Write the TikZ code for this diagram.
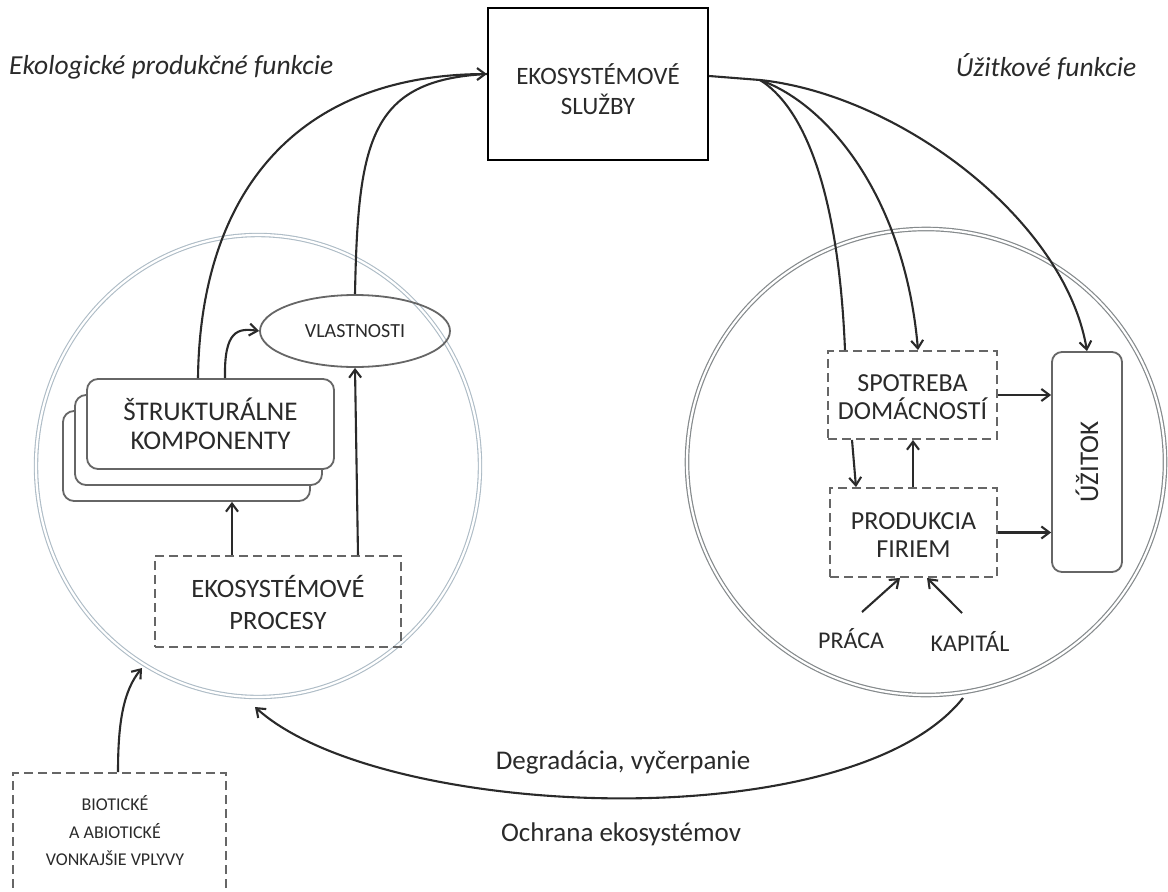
\documentclass[tikz,border=0pt]{standalone}
\usepackage{fontspec}
\setmainfont{Carlito}
\usetikzlibrary{arrows.meta,shapes.geometric}
\definecolor{ink}{HTML}{2A2A2A}
\definecolor{boxgray}{HTML}{666666}
\definecolor{ringleft}{HTML}{AEBCC6}
\definecolor{ringright}{HTML}{858A8C}
\tikzset{
  lbl/.style={font=\fontsize{25}{30}\selectfont, align=center, text=ink, inner sep=0pt},
  smalllbl/.style={font=\fontsize{18}{27.5}\selectfont, align=center, text=ink, inner sep=0pt},
  headlbl/.style={font=\fontsize{27.5}{30}\selectfont\itshape, text=ink, inner sep=0pt},
  mainbox/.style={draw=black, line width=2.4pt, inner sep=0pt},
  stackbox/.style={draw=boxgray, line width=1.8pt, rounded corners=11pt, fill=white,
    minimum width=247pt, minimum height=90pt, inner sep=0pt},
  dashbox/.style={draw=boxgray, line width=1.9pt, dash pattern=on 9pt off 5pt, inner sep=0pt},
  arr/.style={draw=ink, line width=2.1pt, -{Straight Barb[length=8pt,width=12pt]}},
  plain/.style={draw=ink, line width=2.1pt},
  ringL/.style={draw=ringleft, line width=1.1pt, double=white, double distance=2.2pt},
  ringR/.style={draw=ringright, line width=1.2pt, double=white, double distance=2.2pt},
}
\begin{document}
\begin{tikzpicture}[x=1pt,y=-1pt]
\useasboundingbox (0,0) rectangle (1168,892);

% the two domains
\draw[ringL] (258,466) ellipse [x radius=222, y radius=231];
\draw[ringR] (926,462) ellipse [x radius=239, y radius=233];

% headings
\node[headlbl, anchor=west] (hl) at (9,67) {Ekologické produkčné funkcie};
\node[headlbl] (hr) at (1046,67) {Úžitkové funkcie};

% central box
\node[mainbox, minimum width=220pt, minimum height=152pt] (es) at (598,84) {};
\node[lbl] (estext) at (598,89) {EKOSYSTÉMOVÉ\\SLUŽBY};

% ecological side
\node[stackbox] (stack3) at (186.5,456) {};
\node[stackbox] (stack2) at (198.5,440) {};
\node[stackbox, font=\fontsize{27}{29.5}\selectfont, text=ink, align=center] (stack1) at (210.5,424) {ŠTRUKTURÁLNE\\KOMPONENTY};
\node[ellipse, draw=boxgray, line width=1.8pt, minimum width=190pt, minimum height=72pt, inner sep=0pt,
  font=\fontsize{20}{22}\selectfont, text=ink] (vl) at (355,331) {VLASTNOSTI};
\node[dashbox, minimum width=246pt, minimum height=91pt] (proc) at (278,601.5) {};
\node[lbl, font=\fontsize{26.5}{32}\selectfont] (proctext) at (278,603) {EKOSYSTÉMOVÉ\\PROCESY};

% economic side
\node[dashbox, minimum width=169pt, minimum height=88pt] (spot) at (912.5,395) {};
\node[lbl, font=\fontsize{26}{28}\selectfont] (spottext) at (912.5,397) {SPOTREBA\\DOMÁCNOSTÍ};
\node[dashbox, minimum width=167pt, minimum height=89pt] (prod) at (913.5,532.5) {};
\node[lbl, font=\fontsize{26}{28}\selectfont] (prodtext) at (913.5,535) {PRODUKCIA\\FIRIEM};
\node[draw=boxgray, line width=1.8pt, rounded corners=10pt, minimum width=70pt, minimum height=220pt, inner sep=0pt] (uz) at (1087,462) {};
\node[lbl, rotate=90, font=\fontsize{27}{30}\selectfont] (uztext) at (1087,462) {ÚŽITOK};
\node[lbl, font=\fontsize{24}{26}\selectfont] (praca) at (851,639) {PRÁCA};
\node[lbl, font=\fontsize{24}{26}\selectfont] (kapital) at (970,641) {KAPITÁL};

% external influences
\node[dashbox, minimum width=213pt, minimum height=140pt] (bio) at (119.5,843) {};
\node[smalllbl] (biotext) at (115,831) {BIOTICKÉ\\A ABIOTICKÉ\\VONKAJŠIE VPLYVY};

% feedback labels
\node[lbl, font=\fontsize{27}{30}\selectfont] (degr) at (623,762) {Degradácia, vyčerpanie};
\node[lbl, font=\fontsize{27}{30}\selectfont] (ochr) at (621,834) {Ochrana ekosystémov};

% connectors: ecological production functions
\coordinate (join) at (es.west |- 0,74);
\draw[arr] (stack1.north -| 198,0) .. controls (200,200) and (290,75) .. (join);
\draw[plain] (vl.north) .. controls (358,140) and (370,80) .. (join);
\draw[arr] (stack1.north -| 225,0) .. controls (224,330) and (238,328) .. (vl.west);
\draw[arr] (proc.north -| 232,0) -- (stack3.south -| 232,0);
\draw[arr] (proc.north -| 358,0) -- (vl.south);

% connectors: utility functions
\coordinate (fork) at (760,80);
\draw[plain] (es.east |- 0,76) -- (fork);
\draw[plain] (fork) .. controls (800,105) and (838,180) .. (spot.north -| 845,0);
\draw[arr] (fork) .. controls (830,105) and (905,200) .. (spot.north -| 918,0);
\draw[arr] (fork) .. controls (900,95) and (1065,220) .. (uz.north);
\draw[arr] (spot.east) -- (uz.west |- spot.east);
\draw[arr] (prod.east) -- (uz.west |- prod.east);
\draw[arr] (spot.south -| 852,0) -- (prod.north -| 856,0);
\draw[arr] (prod.north -| 913,0) -- (spot.south -| 913,0);
\coordinate (pracaend) at (862,612);
\coordinate (kapend) at (962,613);
\draw[arr] (pracaend) -- (prod.south -| 900,0);
\draw[arr] (kapend) -- (prod.south -| 927,0);

% feedback and external influence
\coordinate (rbottom) at (963,698);
\coordinate (lbottom) at (255,707);
\draw[arr] (rbottom) .. controls (850,840) and (380,820) .. (lbottom);
\coordinate (lside) at (142,668);
\draw[arr] (bio.north -| 118,0) .. controls (118,720) and (124,690) .. (lside);
\end{tikzpicture}
\end{document}
